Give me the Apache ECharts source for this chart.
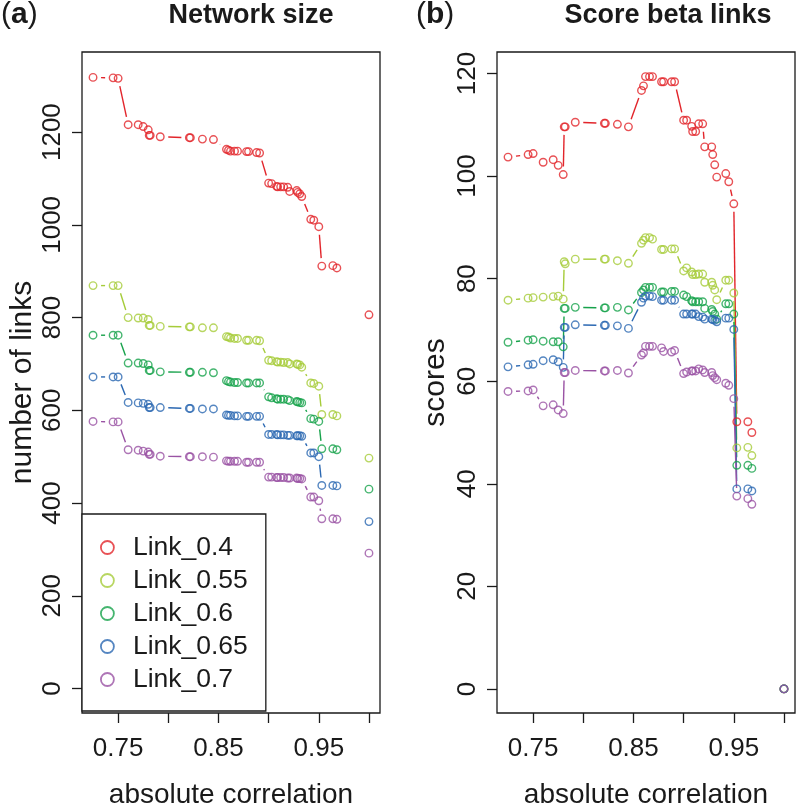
<!DOCTYPE html>
<html>
<head>
<meta charset="utf-8">
<script src="https://cdn.jsdelivr.net/npm/echarts@6/dist/echarts.min.js"></script>
<style>
html,body{margin:0;padding:0;background:#fff;}
#chart{width:796px;height:804px;}
</style>
</head>
<body>
<div id="chart"></div>
<script>
// ---- data ----
const correlation = [0.725, 0.745, 0.75, 0.76, 0.77, 0.775, 0.78, 0.781, 0.782, 0.792,
  0.821, 0.822, 0.834, 0.845, 0.858, 0.86, 0.862, 0.866, 0.869, 0.878,
  0.88, 0.888, 0.891, 0.9, 0.903, 0.908, 0.909, 0.912, 0.915, 0.919,
  0.921, 0.928, 0.929, 0.931, 0.933, 0.942, 0.945, 0.95, 0.953, 0.964,
  0.968, 1.0];
const gapBefore = [1.0]; // no connecting line into these x values

const seriesNames = ['Link_0.4', 'Link_0.55', 'Link_0.6', 'Link_0.65', 'Link_0.7'];

// Panel (a): network size (number of links)
const size_0_4  = [1318,1317,1316,1216,1216,1212,1205,1193,1193,1190,1188,1188,1185,1184,1163,1161,1159,1159,1159,1158,1158,1156,1155,1090,1089,1083,1082,1082,1082,1081,1072,1074,1070,1067,1061,1012,1010,996,911,912,907,806];
const size_0_55 = [869,869,869,800,799,799,796,783,783,781,780,780,778,778,759,758,756,755,755,751,751,751,750,708,707,705,704,704,703,703,700,700,699,698,693,659,658,652,591,591,588,497];
const size_0_6  = [762,762,762,702,702,701,698,686,686,683,682,682,682,681,664,662,661,660,660,659,659,659,659,629,627,625,624,624,624,623,621,619,618,617,616,582,581,576,517,517,515,430];
const size_0_65 = [672,672,672,617,616,615,613,606,606,606,604,604,603,603,590,589,589,588,588,587,587,587,587,548,548,548,547,547,547,546,546,545,545,545,544,508,508,500,438,438,437,360];
const size_0_7  = [576,575,575,515,514,512,510,505,505,501,500,500,500,499,491,490,490,490,490,488,488,488,488,456,456,455,455,455,455,454,454,454,453,453,452,413,413,405,366,366,365,292];

// Panel (b): score beta links
const score_0_4  = [103.7,104.2,104.4,102.7,103.2,102.1,100.3,109.6,109.6,110.5,110.3,110.3,110.1,109.6,116.7,117.6,119.4,119.4,119.4,118.4,118.4,118.4,118.4,110.9,110.9,109.7,108.7,108.7,110.2,110.2,105.7,105.7,104.2,102.2,99.8,100.5,98.9,94.6,52.1,52.1,50.0,0];
const score_0_55 = [75.8,76.2,76.3,76.4,76.5,76.6,76.0,83.3,82.9,83.8,83.8,83.8,83.5,83.0,86.9,87.5,88.0,88.0,87.7,85.7,85.7,85.8,85.8,81.5,82.1,81.3,80.8,80.8,80.9,80.9,79.3,79.3,78.7,77.8,75.9,79.7,79.7,77.2,47.0,47.1,45.5,0];
const score_0_6  = [67.6,68.0,68.1,67.8,67.7,67.7,66.7,74.2,74.2,74.4,74.3,74.3,74.4,73.9,77.3,77.8,78.3,78.3,78.3,77.4,77.4,77.5,77.5,76.8,76.5,75.7,75.5,75.5,75.5,75.5,74.2,74.0,73.6,73.1,72.1,75.1,75.1,73.1,43.6,43.6,43.0,0];
const score_0_65 = [62.8,63.2,63.3,64.0,64.2,63.8,62.7,70.5,70.5,71.0,70.9,70.9,70.8,70.3,75.4,76.2,76.6,76.6,76.5,75.8,75.8,75.8,75.8,73.1,73.1,73.1,73.1,73.1,72.6,72.5,72.1,72.1,72.0,71.9,71.6,72.3,72.3,70.1,39.0,39.0,38.6,0];
const score_0_7  = [58.0,58.1,58.3,55.2,55.4,54.4,53.7,61.7,61.7,62.1,62.0,62.0,62.1,61.6,65.1,65.5,66.8,66.8,66.8,66.5,65.8,65.7,66.0,61.5,61.8,62.0,62.0,62.0,62.4,62.2,61.7,61.7,61.1,60.7,60.3,59.6,59.2,56.6,37.6,37.1,36.0,0];

const xTicks = [0.75, 0.80, 0.85, 0.90, 0.95, 1.00];
const xTickLabels = [0.75, 0.85, 0.95];
const sizeTicks = [0, 200, 400, 600, 800, 1000, 1200];
const scoreTicks = [0, 20, 40, 60, 80, 100, 120];

// ---- style ----
const colors = ['#E2252B', '#A6CC3A', '#17A24B', '#2B68B2', '#9A53A4'];
const FONT = '"Liberation Sans", Arial, Helvetica, sans-serif';
const INK = '#1a1a1a';
const GAP = 8;        // R type="b" gap around points (px)
const SYM = 7.5;

const panels = [
  { data: [size_0_4, size_0_55, size_0_6, size_0_65, size_0_7], yMin: -52.8, yMax: 1372.8, ticks: sizeTicks, name: 'number of links', nameGap: 44 },
  { data: [score_0_4, score_0_55, score_0_6, score_0_65, score_0_7], yMin: -4.7, yMax: 124.2, ticks: scoreTicks, name: 'scores', nameGap: 46 }
];

function segments(ys) {
  const out = [];
  for (let i = 0; i < correlation.length - 1; i++) {
    if (gapBefore.indexOf(correlation[i + 1]) >= 0) continue;
    out.push([correlation[i], ys[i], correlation[i + 1], ys[i + 1]]);
  }
  return out;
}

function segRenderer(color) {
  return function (params, api) {
    const p1 = api.coord([api.value(0), api.value(1)]);
    const p2 = api.coord([api.value(2), api.value(3)]);
    const dx = p2[0] - p1[0], dy = p2[1] - p1[1];
    const d = Math.sqrt(dx * dx + dy * dy);
    if (d <= 2 * GAP) return null;
    const ux = dx / d, uy = dy / d;
    return {
      type: 'line',
      shape: { x1: p1[0] + ux * GAP, y1: p1[1] + uy * GAP, x2: p2[0] - ux * GAP, y2: p2[1] - uy * GAP },
      style: { stroke: color, lineWidth: 1.4 }
    };
  };
}

const grids = [
  { left: 82, top: 52, width: 298, height: 661 },
  { left: 497, top: 52, width: 298, height: 661 }
].map(g => Object.assign(g, { show: true, borderColor: INK, borderWidth: 1.3, backgroundColor: 'transparent',
  containLabel: false, outerBoundsMode: 'none' }));

const xAxes = [0, 1].map(i => ({
  type: 'value', gridIndex: i, min: 0.714, max: 1.011,
  axisLine: { show: false, onZero: false },
  axisTick: { show: true, length: 10, customValues: xTicks, lineStyle: { color: INK, width: 1.3 } },
  axisLabel: { customValues: xTickLabels, formatter: v => v.toFixed(2), margin: 23,
    fontFamily: FONT, fontSize: 26, color: INK },
  splitLine: { show: false },
  name: 'absolute correlation', nameLocation: 'middle', nameGap: 68,
  nameTextStyle: { fontFamily: FONT, fontSize: 28, color: INK }
}));

const yAxes = panels.map((p, i) => ({
  type: 'value', gridIndex: i, min: p.yMin, max: p.yMax,
  axisLine: { show: false, onZero: false },
  axisTick: { show: true, length: 10, customValues: p.ticks, lineStyle: { color: INK, width: 1.3 } },
  axisLabel: { customValues: p.ticks, rotate: 90, margin: 16, formatter: v => String(v),
    fontFamily: FONT, fontSize: 26, color: INK },
  splitLine: { show: false },
  name: p.name, nameLocation: 'middle', nameGap: p.nameGap, nameRotate: 90,
  nameTextStyle: { fontFamily: FONT, fontSize: 30, color: INK }
}));

const series = [];
panels.forEach((p, pi) => {
  p.data.forEach((ys, si) => {
    series.push({
      type: 'custom', name: '_seg' + pi + si, xAxisIndex: pi, yAxisIndex: pi,
      renderItem: segRenderer(colors[si]),
      encode: { x: [0, 2], y: [1, 3] },
      data: segments(ys), silent: true, z: 2
    });
  });
  p.data.forEach((ys, si) => {
    series.push({
      type: 'scatter', name: seriesNames[si], xAxisIndex: pi, yAxisIndex: pi,
      symbol: 'circle', symbolSize: SYM,
      itemStyle: { color: 'rgba(255,255,255,0)', borderColor: colors[si], borderWidth: 1.4 },
      data: correlation.map((x, k) => [x, ys[k]]),
      z: 3, silent: true
    });
  });
});

const option = {
  animation: false,
  backgroundColor: '#fff',
  grid: grids,
  xAxis: xAxes,
  yAxis: yAxes,
  legend: {
    data: seriesNames,
    orient: 'vertical', left: 82, top: 514,
    padding: [17, 18, 15, 18],
    itemGap: 0, itemWidth: 13, itemHeight: 13,
    icon: 'circle',
    itemStyle: { color: 'rgba(255,255,255,0)', borderWidth: 1.8 },
    borderColor: INK, borderWidth: 1.3, backgroundColor: '#fff',
    selectedMode: false,
    textStyle: { fontFamily: FONT, fontSize: 26.5, color: INK, lineHeight: 33, padding: [0, 0, 0, 14] }
  },
  graphic: [
    { type: 'text', left: 1, top: 0, style: { text: '{p|(}{b|a}{p|)}', rich: {
        p: { fontFamily: FONT, fontSize: 30, fill: INK },
        b: { fontFamily: FONT, fontSize: 30, fontWeight: 'bold', fill: INK } } } },
    { type: 'text', left: 416, top: 0, style: { text: '{p|(}{b|b}{p|)}', rich: {
        p: { fontFamily: FONT, fontSize: 30, fill: INK },
        b: { fontFamily: FONT, fontSize: 30, fontWeight: 'bold', fill: INK } } } },
    { type: 'text', x: 251, y: 16, style: { text: 'Network size', fontFamily: FONT, fontSize: 27, fontWeight: 'bold', fill: INK, textAlign: 'center', textVerticalAlign: 'middle' } },
    { type: 'text', x: 668, y: 16, style: { text: 'Score beta links', fontFamily: FONT, fontSize: 27, fontWeight: 'bold', fill: INK, textAlign: 'center', textVerticalAlign: 'middle' } }
  ],
  series: series
};

const chart = echarts.init(document.getElementById('chart'), null, { renderer: 'canvas' });
chart.setOption(option);
</script>
</body>
</html>
